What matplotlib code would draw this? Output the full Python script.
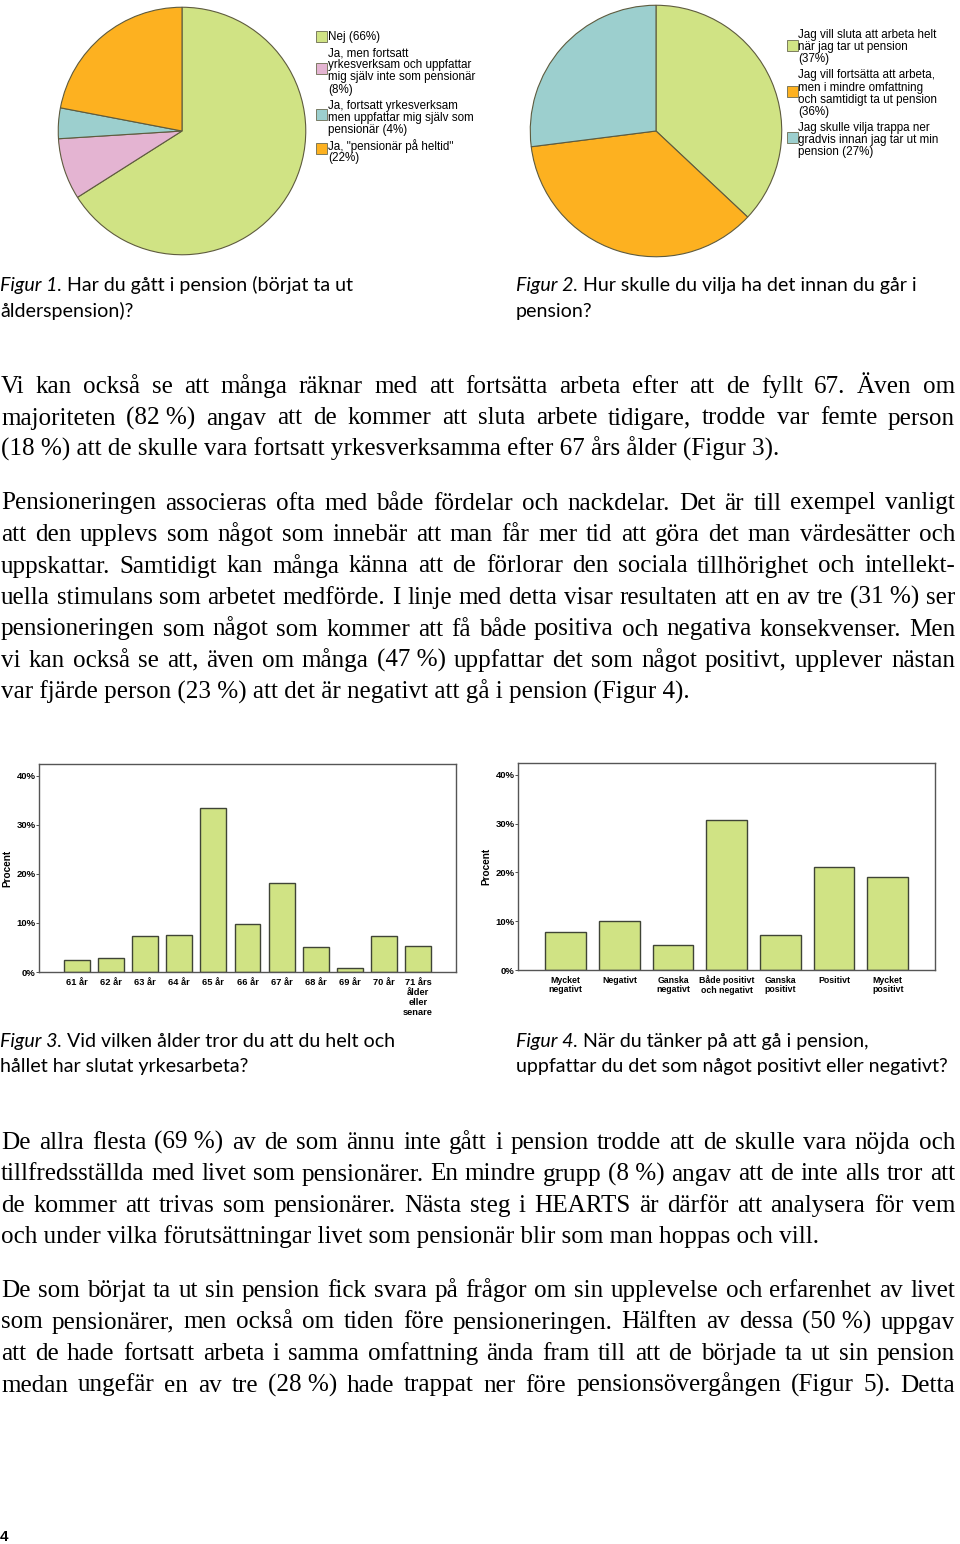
import matplotlib
matplotlib.use("Agg")
import matplotlib.pyplot as plt
from matplotlib.patches import Rectangle

# ---------------- data ----------------
pie1_labels = ["Nej (66%)",
               "Ja, men fortsatt\nyrkesverksam och uppfattar\nmig själv inte som pensionär\n(8%)",
               "Ja, fortsatt yrkesverksam\nmen uppfattar mig själv som\npensionär (4%)",
               "Ja, \"pensionär på heltid\"\n(22%)"]
pie1_values = [66, 8, 4, 22]
pie1_colors = ["#D0E384", "#E4B4D2", "#9CCFCE", "#FDB120"]

pie2_labels = ["Jag vill sluta att arbeta helt\nnär jag tar ut pension\n(37%)",
               "Jag vill fortsätta att arbeta,\nmen i mindre omfattning\noch samtidigt ta ut pension\n(36%)",
               "Jag skulle vilja trappa ner\ngradvis innan jag tar ut min\npension (27%)"]
pie2_values = [37, 36, 27]
pie2_colors = ["#D0E384", "#FDB120", "#9CCFCE"]

fig3_categories = ["61 år", "62 år", "63 år", "64 år", "65 år", "66 år", "67 år",
                   "68 år", "69 år", "70 år", "71 års\nålder\neller\nsenare"]
fig3_values = [2.5, 2.9, 7.3, 7.6, 33.4, 9.8, 18.2, 5.0, 0.8, 7.4, 5.3]

fig4_categories = ["Mycket\nnegativt", "Negativt", "Ganska\nnegativt", "Både positivt\noch negativt",
                   "Ganska\npositivt", "Positivt", "Mycket\npositivt"]
fig4_values = [7.7, 10.1, 5.1, 30.8, 7.1, 21.0, 19.0]

yticks = [0, 10, 20, 30, 40]
ytick_labels = ["0%", "10%", "20%", "30%", "40%"]

captions = {
    "fig1": ("Figur 1.", [" Har du gått i pension (börjat ta ut", "ålderspension)?"]),
    "fig2": ("Figur 2.", [" Hur skulle du vilja ha det innan du går i", "pension?"]),
    "fig3": ("Figur 3.", [" Vid vilken ålder tror du att du helt och", "hållet har slutat yrkesarbeta?"]),
    "fig4": ("Figur 4.", [" När du tänker på att gå i pension,", "uppfattar du det som något positivt eller negativt?"]),
}

para1 = ["Vi kan också se att många räknar med att fortsätta arbeta efter att de fyllt 67. Även om",
         "majoriteten (82\u00a0%) angav att de kommer att sluta arbete tidigare, trodde var femte person",
         "(18\u00a0%) att de skulle vara fortsatt yrkesverksamma efter 67 års ålder (Figur 3)."]
para2 = ["Pensioneringen associeras ofta med både fördelar och nackdelar. Det är till exempel vanligt",
         "att den upplevs som något som innebär att man får mer tid att göra det man värdesätter och",
         "uppskattar. Samtidigt kan många känna att de förlorar den sociala tillhörighet och intellekt-",
         "uella stimulans som arbetet medförde. I linje med detta visar resultaten att en av tre (31\u00a0%) ser",
         "pensioneringen som något som kommer att få både positiva och negativa konsekvenser. Men",
         "vi kan också se att, även om många (47\u00a0%) uppfattar det som något positivt, upplever nästan",
         "var fjärde person (23\u00a0%) att det är negativt att gå i pension (Figur 4)."]
para3 = ["De allra flesta (69\u00a0%) av de som ännu inte gått i pension trodde att de skulle vara nöjda och",
         "tillfredsställda med livet som pensionärer. En mindre grupp (8\u00a0%) angav att de inte alls tror att",
         "de kommer att trivas som pensionärer. Nästa steg i HEARTS är därför att analysera för vem",
         "och under vilka förutsättningar livet som pensionär blir som man hoppas och vill."]
para4 = ["De som börjat ta ut sin pension fick svara på frågor om sin upplevelse och erfarenhet av livet",
         "som pensionärer, men också om tiden före pensioneringen. Hälften av dessa (50\u00a0%) uppgav",
         "att de hade fortsatt arbeta i samma omfattning ända fram till att de började ta ut sin pension",
         "medan ungefär en av tre (28\u00a0%) hade trappat ner före pensionsövergången (Figur 5). Detta"]

# ---------------- layout ----------------
W, H = 960, 1544
fig = plt.figure(figsize=(W / 100, H / 100), dpi=100)
fig.patch.set_facecolor("white")

def px_axes(x, y, w, h, **kw):
    return fig.add_axes([x / W, 1 - (y + h) / H, w / W, h / H], **kw)

page = px_axes(0, 0, W, H)
page.set_xlim(0, W)
page.set_ylim(H, 0)
page.axis("off")
renderer = fig.canvas.get_renderer()

SANS = "Liberation Sans"
SERIF = "Liberation Serif"
CAP = "Lato"
EDGE = "#5E5B3E"

# ---------------- pies ----------------
def draw_pie(box, values, colors):
    ax = px_axes(*box)
    ax.pie(values, colors=colors, startangle=90, counterclock=False,
           wedgeprops=dict(edgecolor=EDGE, linewidth=0.8))
    ax.set_xlim(-1.01, 1.01)
    ax.set_ylim(-1.01, 1.01)
    ax.set_aspect("equal")
    ax.axis("off")

draw_pie((57, 6, 250, 250), pie1_values, pie1_colors)
draw_pie((529, 4, 254, 254), pie2_values, pie2_colors)

def draw_legend(x_sq, x_txt, y_first, square_ys, labels, colors, step=12.1, gap=4.1):
    y = y_first
    for lab, col, sy in zip(labels, colors, square_ys):
        page.add_patch(Rectangle((x_sq, sy), 11, 11, facecolor=col, edgecolor="#6a6a50", lw=0.6))
        for ln in lab.split("\n"):
            page.text(x_txt, y, ln, fontsize=8.4, family=SANS, va="center", ha="left", color="black")
            y += step
        y += gap

draw_legend(316, 328.5, 37, [31, 63, 109, 143], pie1_labels, pie1_colors)
draw_legend(787, 798.5, 35, [40, 86, 132], pie2_labels, pie2_colors)

# ---------------- captions ----------------
def caption(x, ys, key, size=14.1):
    ital, rest = captions[key]
    t = page.text(x, ys[0], ital, fontsize=size, family=CAP, style="italic", va="baseline", ha="left")
    w = t.get_window_extent(renderer).width
    page.text(x + w, ys[0], rest[0], fontsize=size, family=CAP, va="baseline", ha="left")
    page.text(x, ys[1], rest[1], fontsize=size, family=CAP, va="baseline", ha="left")

caption(0, (291, 317), "fig1")
caption(516, (291, 317), "fig2")
caption(0, (1047, 1072), "fig3")
caption(516, (1047, 1072), "fig4")

# ---------------- bar charts ----------------
BAR = "#D0E384"
BAREDGE = "#3F4436"

def bar_chart(box, cats, vals, xlim, labsize, ls):
    ax = px_axes(*box)
    x = list(range(len(cats)))
    ax.bar(x, vals, width=0.76, color=BAR, edgecolor=BAREDGE, linewidth=1.0)
    ax.set_xlim(*xlim)
    ax.set_ylim(0, 42.4)
    ax.set_yticks(yticks)
    ax.set_yticklabels(ytick_labels, fontsize=6.8, family=SANS, fontweight="bold")
    ax.set_xticks(x)
    ax.set_xticklabels(cats, fontsize=labsize, family=SANS, fontweight="bold", linespacing=ls)
    ax.tick_params(axis="y", length=2, width=0.6, pad=0.5, colors="#333333", labelcolor="black")
    ax.tick_params(axis="x", length=0, pad=4)
    for s in ax.spines.values():
        s.set_color("#555555")
        s.set_linewidth(1.0)
    ax.set_ylabel("Procent", fontsize=7.2, family=SANS, fontweight="bold")
    ax.yaxis.set_label_coords(-0.065, 0.5)
    return ax

bar_chart((39, 764, 417, 208), fig3_categories, fig3_values, (-1.11, 11.11), 6.7, 1.15)
bar_chart((518, 763, 417, 207), fig4_categories, fig4_values, (-0.89, 6.88), 6.3, 1.1)

# ---------------- justified body text ----------------
BODY = 18.1
def justified(lines, y0, step=31.5, x0=1, x1=955, last_justified=False):
    for i, ln in enumerate(lines):
        y = y0 + i * step
        is_last = (i == len(lines) - 1) and not last_justified
        if is_last:
            page.text(x0, y, ln, fontsize=BODY, family=SERIF, va="baseline", ha="left")
            continue
        words = ln.split(" ")
        ts = [page.text(0, y, w, fontsize=BODY, family=SERIF, va="baseline", ha="left") for w in words]
        widths = [t.get_window_extent(renderer).width for t in ts]
        gap = (x1 - x0 - sum(widths)) / (len(words) - 1)
        xx = x0
        for t, wd in zip(ts, widths):
            t.set_x(xx)
            xx += wd + gap

justified(para1, 393)
justified(para2, 509.5)
justified(para3, 1149)
justified(para4, 1297, last_justified=True)

page.text(0, 1541, "4", fontsize=11, family=SANS, fontweight="bold", va="baseline", ha="left")

fig.savefig("out.png", dpi=100, facecolor="white")
